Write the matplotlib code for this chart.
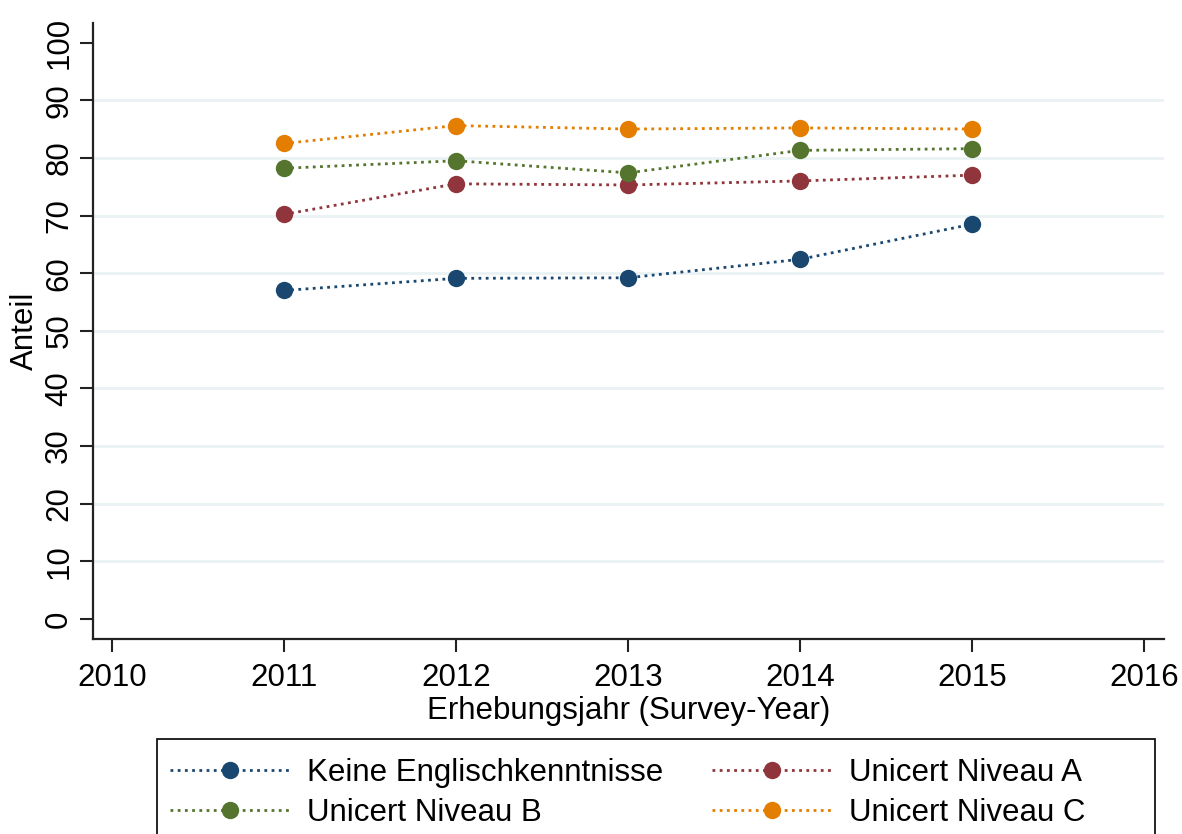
import matplotlib.pyplot as plt
from matplotlib.patches import Rectangle

plt.rcParams['font.family'] = ['Liberation Sans', 'DejaVu Sans']

years = [2011, 2012, 2013, 2014, 2015]
keine = [57.0, 59.1, 59.2, 62.4, 68.5]
niveau_a = [70.2, 75.5, 75.3, 76.0, 77.0]
niveau_b = [78.2, 79.5, 77.4, 81.3, 81.6]
niveau_c = [82.5, 85.6, 85.0, 85.2, 85.0]

labels = ["Keine Englischkenntnisse", "Unicert Niveau A",
          "Unicert Niveau B", "Unicert Niveau C"]
colors = ["#1A476F", "#90353B", "#55752F", "#E37E00"]
FS = 22.5

fig = plt.figure(figsize=(11.82, 8.34), dpi=100)
ax = fig.add_axes([93 / 1182, 1 - 639 / 834, (1164 - 93) / 1182, (639 - 23) / 834])

series = [keine, niveau_a, niveau_b, niveau_c]
lines = []
for vals, col, lab in zip(series, colors, labels):
    ln, = ax.plot(years, vals, color=col, linestyle=(0, (1, 1.6)), linewidth=2,
                  marker='o', markersize=12.5, markeredgewidth=0, label=lab)
    lines.append(ln)

ax.set_xlim(2009.89, 2016.115)
ax.set_ylim(-3.47, 103.4)
ax.set_xticks(range(2010, 2017))
ax.set_yticks(range(0, 101, 10))

for g in range(10, 100, 10):
    ax.axhline(g, color="#EAF2F3", linewidth=2, zorder=0)

for s in ['top', 'right']:
    ax.spines[s].set_visible(False)
for s in ['left', 'bottom']:
    ax.spines[s].set_linewidth(1.6)
    ax.spines[s].set_color("#222222")

ax.tick_params(axis='both', direction='out', length=9.5, width=1.5,
               color="#222222", labelsize=FS)
ax.tick_params(axis='x', pad=8)
ax.tick_params(axis='y', pad=4)
for t in ax.get_yticklabels():
    t.set_rotation(90)
    t.set_va('center')

ax.set_xlabel("Erhebungsjahr (Survey-Year)", fontsize=FS, labelpad=2)
ax.set_ylabel("Anteil", fontsize=FS, labelpad=3)

# legend frame is wider than its content, draw it separately
fig.patches.append(Rectangle((157 / 1182, -0.05), (1155 - 157) / 1182, 1 - 739 / 834 + 0.05,
                             transform=fig.transFigure, fill=False,
                             edgecolor='black', linewidth=1.2))

# legend order: row-wise (Keine, A / B, C)
leg = fig.legend([lines[0], lines[2], lines[1], lines[3]],
                 [labels[0], labels[2], labels[1], labels[3]],
                 ncol=2, loc='upper left', bbox_to_anchor=(170 / 1182, 1 - 758 / 834),
                 fontsize=FS, frameon=False,
                 handlelength=3.84, handletextpad=0.54, columnspacing=1.56,
                 labelspacing=0.31, borderpad=0, borderaxespad=0)

fig.savefig("out.png", dpi=100)
